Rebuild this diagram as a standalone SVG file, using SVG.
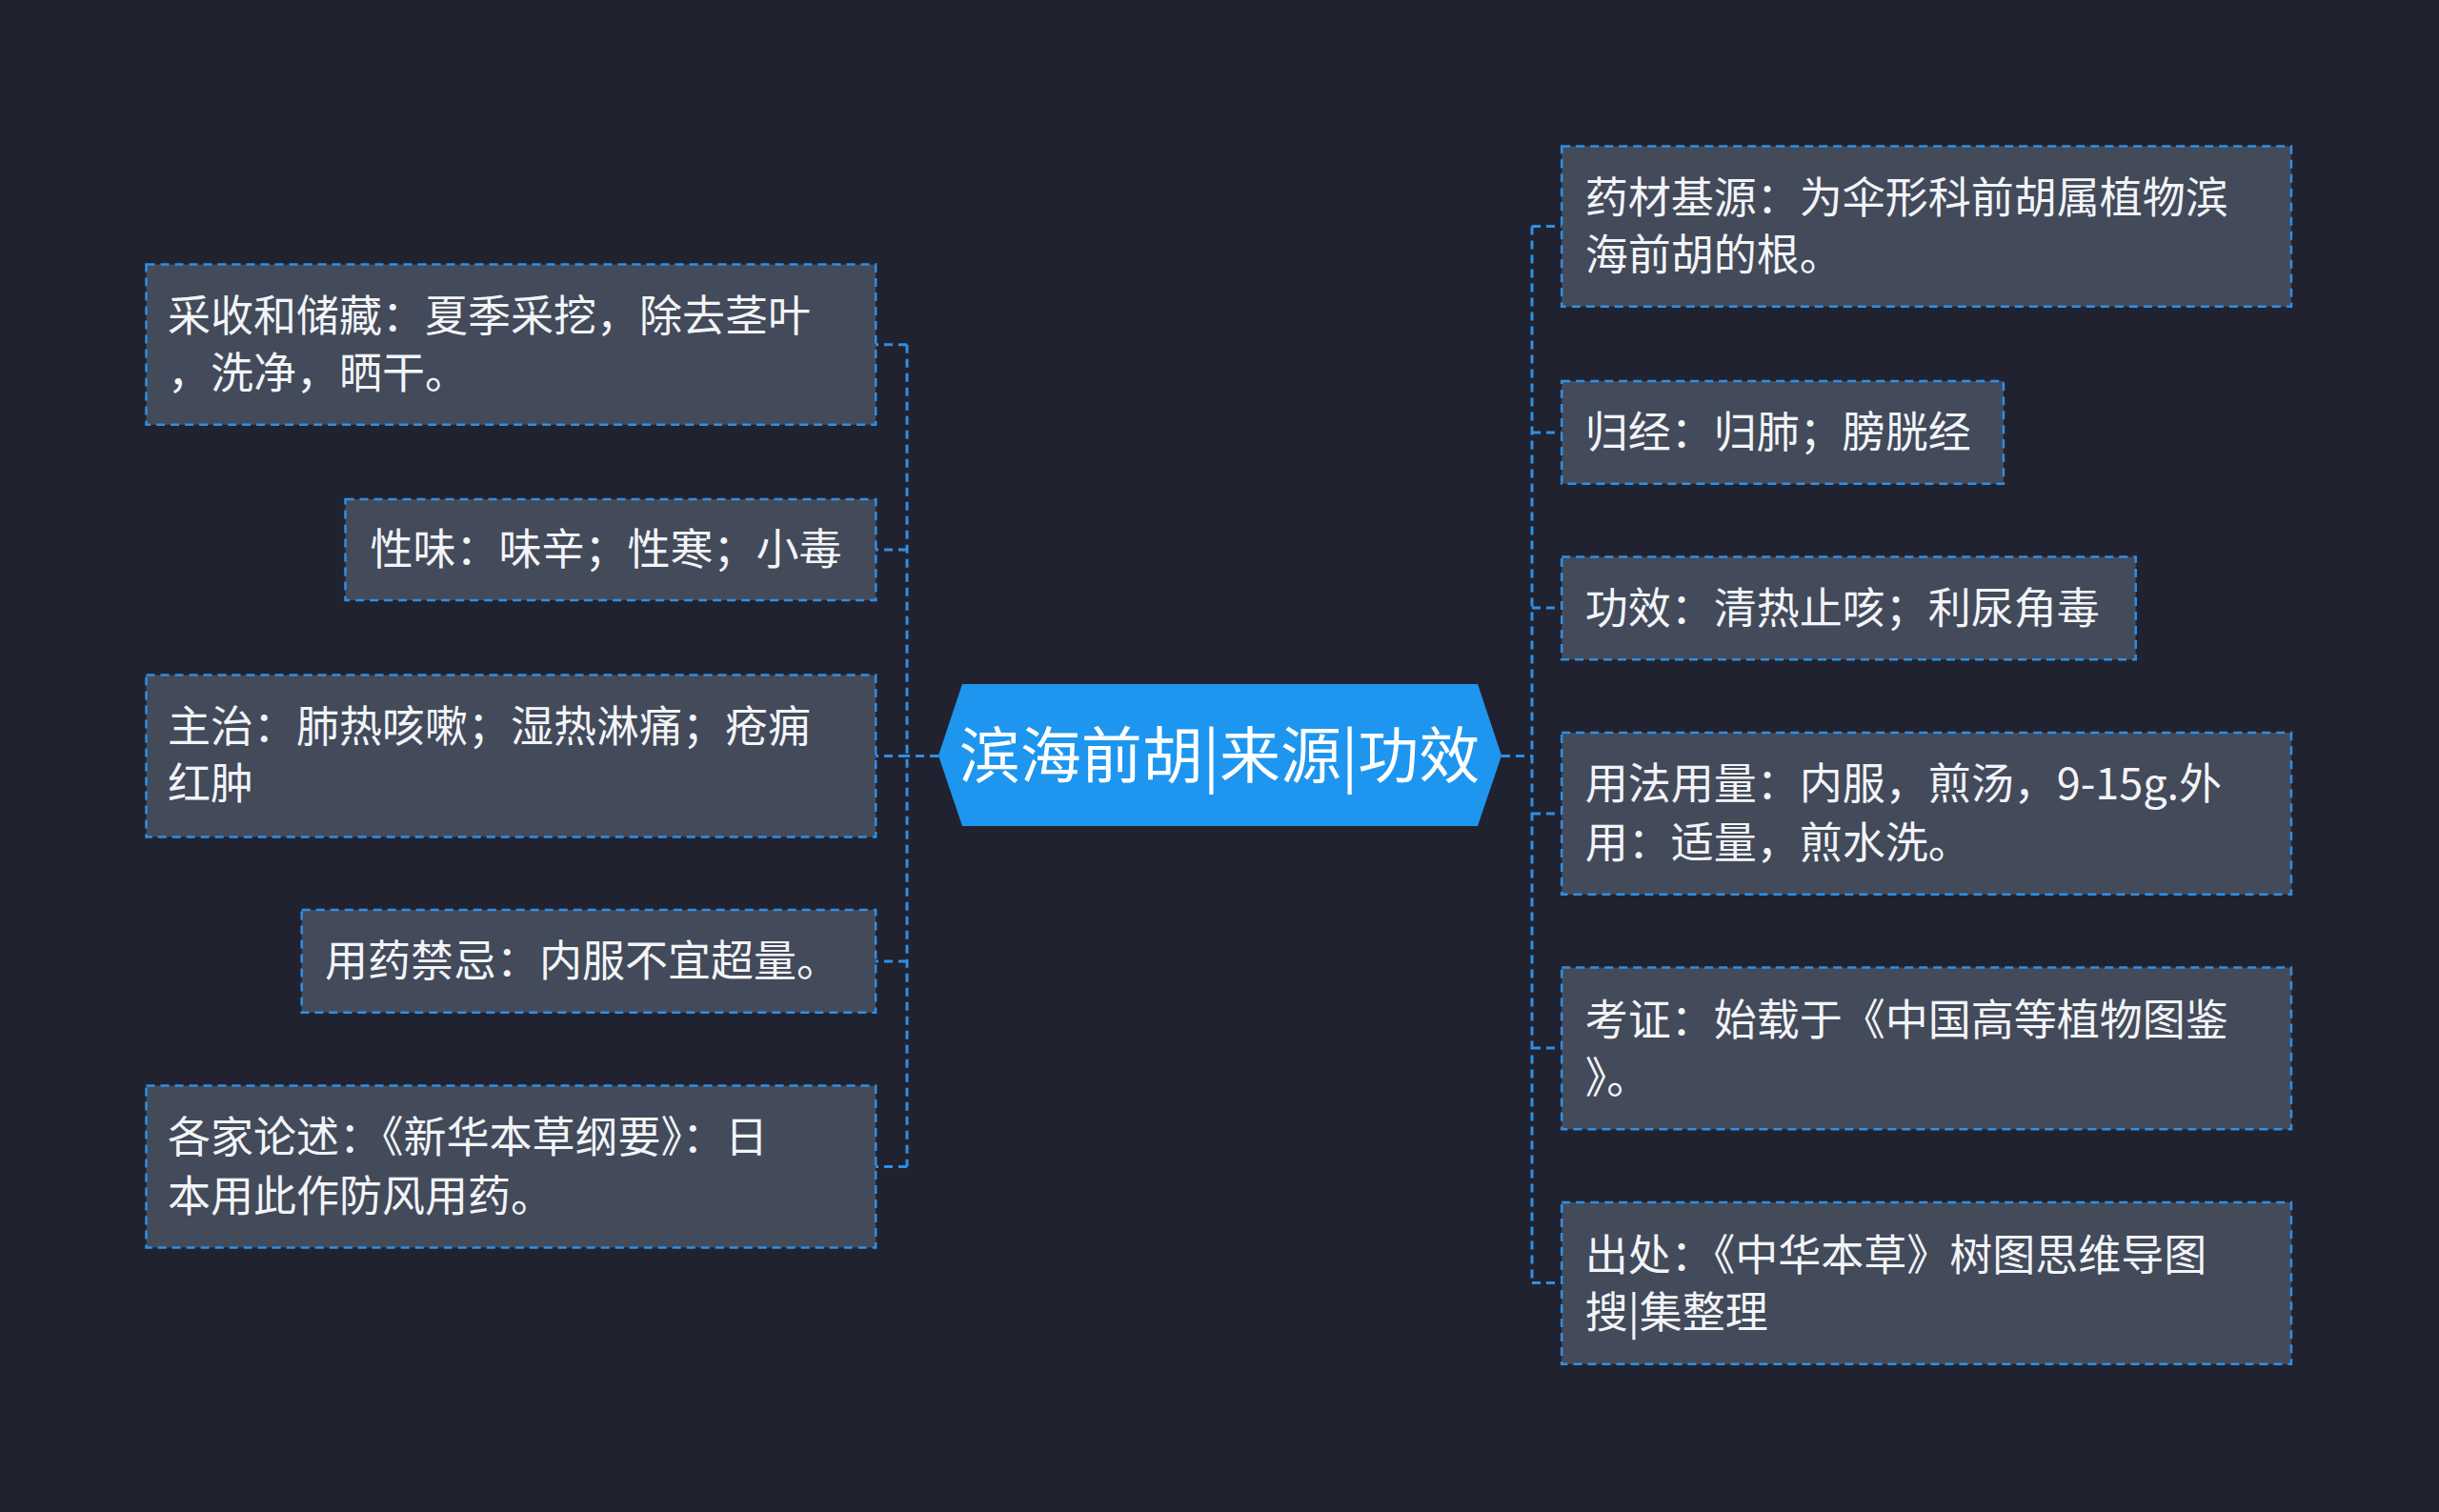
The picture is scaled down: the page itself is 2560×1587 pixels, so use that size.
<svg xmlns="http://www.w3.org/2000/svg" width="2560" height="1587" viewBox="0 0 2560 1587">
<style>
.n{fill:#434a5a;stroke:#2f8fe6;stroke-width:2.5;stroke-dasharray:9 6}
.t{fill:#f2f4f7;font-family:"Noto Sans CJK SC","Noto Sans",sans-serif;font-size:45px}
.c{fill:none;stroke:#2f8fe6;stroke-width:3;stroke-dasharray:9 6}
</style>
<rect width="2560" height="1587" fill="#20232f"/>
<g id="connectors">
<path class="c" d="M985 793.5H952M952 361.7V1224.5M952 361.7H919M952 577H919M952 793.5H919M952 1009H919M952 1224.5H919"/>
<path class="c" d="M1576 793.5H1608M1608 237.6V1346.5M1608 237.6H1639M1608 454H1639M1608 638H1639M1608 854H1639M1608 1100H1639M1608 1346.5H1639"/>
</g>
<g id="center">
<polygon points="985,793 1010,718 1551,718 1576,793 1551,867 1010,867" fill="#1e96ef"/>
<text x="1280" y="816" text-anchor="middle" fill="#ffffff" font-family="Noto Sans CJK SC,sans-serif" font-size="64">滨海前胡|来源|功效</text>
</g>
<g id="l1"><rect class="n" x="153.5" y="277.6" width="765.7" height="168.2"/><text class="t" x="176" y="348">采收和储藏：夏季采挖，除去茎叶</text><text class="t" x="176" y="408">，洗净，晒干。</text></g>
<g id="l2"><rect class="n" x="362.5" y="524" width="556.8" height="106"/><text class="t" x="388.6" y="593">性味：味辛；性寒；小毒</text></g>
<g id="l3"><rect class="n" x="153.5" y="708.6" width="765.7" height="169.8"/><text class="t" x="176" y="779">主治：肺热咳嗽；湿热淋痛；疮痈</text><text class="t" x="176" y="839">红肿</text></g>
<g id="l4"><rect class="n" x="316.7" y="955" width="602.4" height="107.8"/><text class="t" x="341" y="1025">用药禁忌：内服不宜超量。</text></g>
<g id="l5"><rect class="n" x="153.5" y="1139.6" width="765.7" height="169.8"/><text class="t" x="176" y="1210">各家论述：《新华本草纲要》：日</text><text class="t" x="176" y="1272">本用此作防风用药。</text></g>
<g id="r1"><rect class="n" x="1639.2" y="153.5" width="765.7" height="168.2"/><text class="t" x="1663.7" y="223.7">药材基源：为伞形科前胡属植物滨</text><text class="t" x="1663.7" y="284">海前胡的根。</text></g>
<g id="r2"><rect class="n" x="1639.2" y="400" width="463.7" height="107.8"/><text class="t" x="1663.7" y="470">归经：归肺；膀胱经</text></g>
<g id="r3"><rect class="n" x="1639.2" y="584.5" width="602.5" height="107.8"/><text class="t" x="1663.7" y="654.7">功效：清热止咳；利尿角毒</text></g>
<g id="r4"><rect class="n" x="1639.2" y="769" width="765.7" height="169.8"/><text class="t" x="1663.7" y="839">用法用量：内服，煎汤，9-15g.外</text><text class="t" x="1663.7" y="901">用：适量，煎水洗。</text></g>
<g id="r5"><rect class="n" x="1639.2" y="1015.5" width="765.7" height="169.8"/><text class="t" x="1663.7" y="1087">考证：始载于《中国高等植物图鉴</text><text class="t" x="1663.7" y="1148">》。</text></g>
<g id="r6"><rect class="n" x="1639.2" y="1262" width="765.7" height="169.8"/><text class="t" x="1663.7" y="1334">出处：《中华本草》树图思维导图</text><text class="t" x="1663.7" y="1394">搜|集整理</text></g>
</svg>
